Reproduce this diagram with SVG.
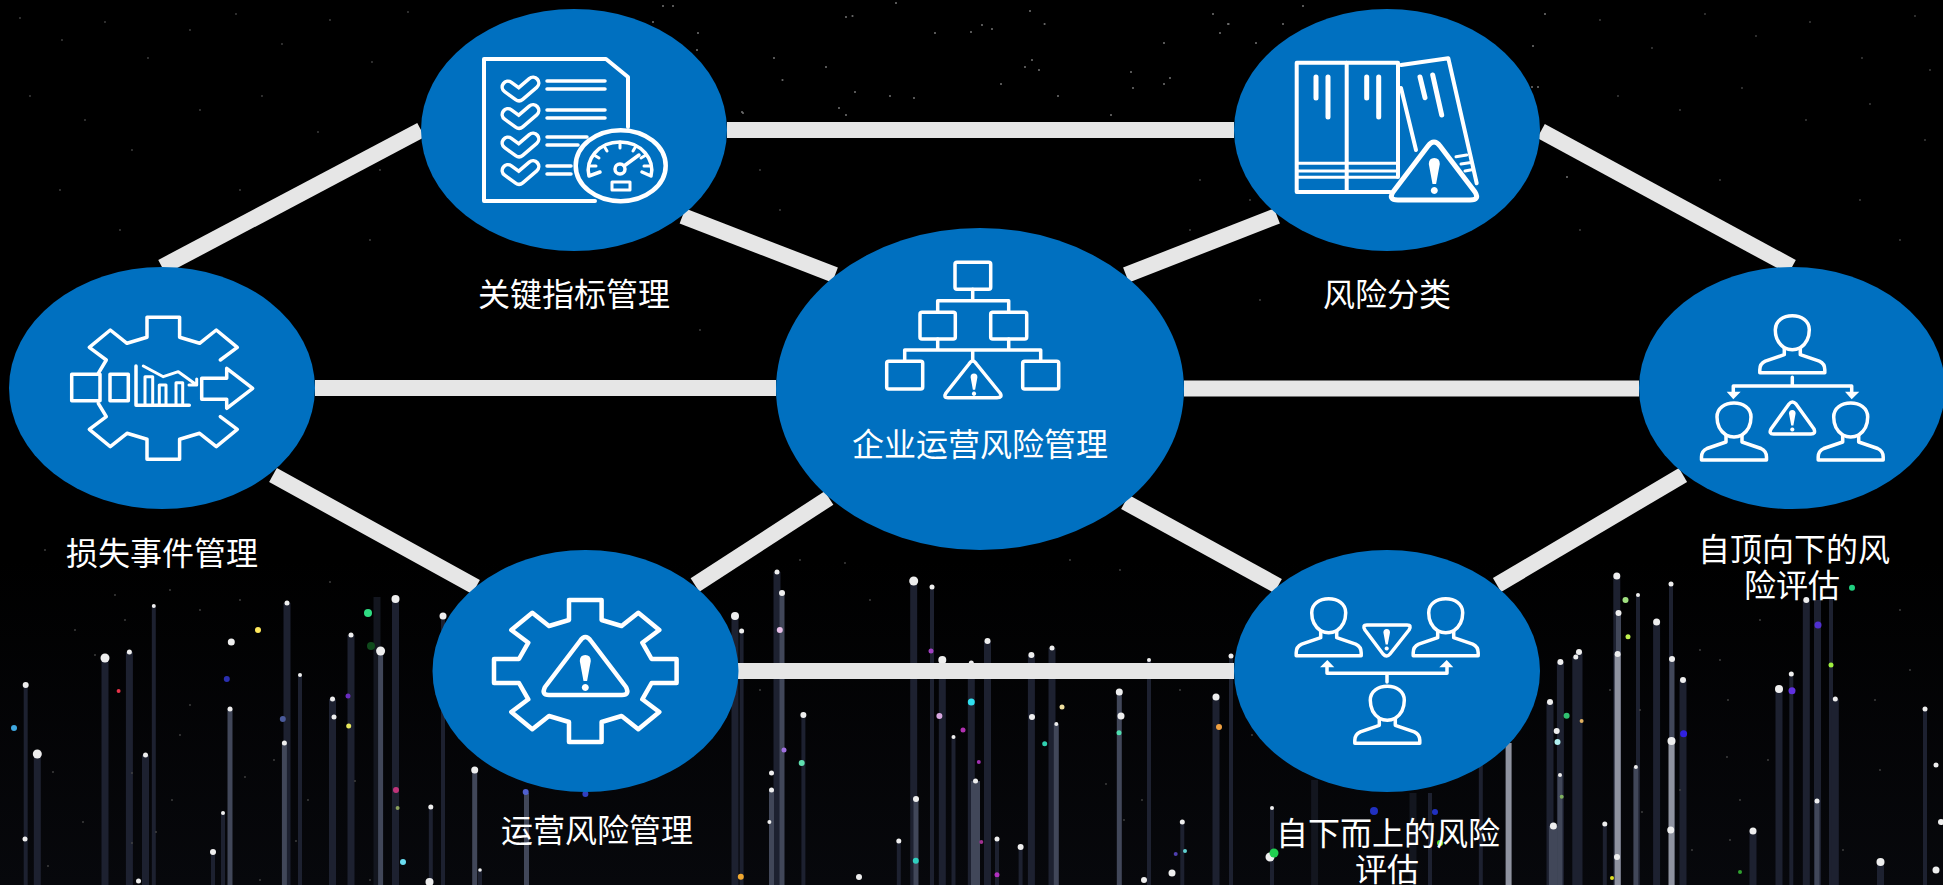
<svg xmlns="http://www.w3.org/2000/svg" width="1943" height="885" viewBox="0 0 1943 885" stroke-width="4">
<style>
.n{fill:#0070c0}
.c{stroke:#e6e6e6;stroke-width:16;fill:none}
.i{fill:none;stroke:#fff;stroke-linejoin:round;stroke-linecap:round}
.ib{fill:#0070c0;stroke:#fff;stroke-linejoin:round;stroke-linecap:round}
.t{font-family:"Noto Sans CJK SC",sans-serif;font-size:32px;fill:#fff;text-anchor:middle}
.w{fill:#fff;stroke:none}
.s1{stroke:#13161f;fill:none}
.s2{stroke:#1d2130;fill:none}
.s3{stroke:#414759;fill:none}
.s4{stroke:#8f93a0;fill:none}
.d{fill:#eeeeee}
.star{fill:none;stroke-linecap:round}
</style>
<defs>
<linearGradient id="bgfade" x1="0" y1="0" x2="0" y2="1"><stop offset="0" stop-color="#000"/><stop offset="1" stop-color="#07080c"/></linearGradient>
<path id="bang" d="M-5.500,-14 Q-5.500,-20 0,-20 Q5.500,-20 5.500,-14 L1.800,6 H-1.800 Z M0,9 a3.500,3.500 0 1 0 .01,0 Z"/>
<path id="gear" d="M-16.300,-71H16.300V-51L36.300,-45L53,-58.300L74,-41L57,-28.300L66.300,-12H91.300V12H66.300L57,28.300L74,41L53,58.300L36.300,45L16.300,51V71H-16.300V51L-36.300,45L-53,58.300L-74,41L-57,28.300L-66.300,12H-91.300V-12H-66.300L-57,-28.300L-74,-41L-53,-58.300L-36.300,-45L-16.300,-51Z"/>
<g id="person"><path d="M-8,15C-14,11 -17,4 -17,-3C-17,-12 -9,-17 0,-17C9,-17 17,-12 17,-3C17,4 14,11 8,15Q0,19 -8,15Z"/><path d="M-8,15V22L-27,28.500Q-32.500,31 -32.500,37V40H32.500V37Q32.500,31 27,28.500L8,22V15"/></g>
<path id="chk" d="M0,0L11,8L25,-4"/>
</defs>

<g id="background">
<rect width="1943" height="885" fill="#000"/>
<rect y="560" width="1943" height="325" fill="url(#bgfade)"/>
<path class="s1" stroke-width="7" d="M377,597V885M1314.600,780V885M1413,793V885"/>
<path class="s2" stroke-width="4" d="M25.700,685V885M153.800,606V885M300,675V885M443,616V885M932,587V885M741.600,631V885M1149,660V885M1231,656V885M803.400,715V885M953.500,737V885M1480.800,763V885M1430,793V885M1638,595V885M1671,584V885M1791.300,674V885M1831,597V885M1925,709V885M1272,808V885M898.800,841V885M997,839V885M1020.600,847V885M430.800,807V885M213,852V885M223,813V885M1604.800,824V885M1182.300,822V885M480,870V885"/>
<path class="s2" stroke-width="7" d="M37.300,754V885M105,658V885M129.400,652V885M145.500,755V885M287,603V885M332.500,699V885M351,635V885M395.500,599V885M735,616V885M913.700,581V885M942.300,660V885M971.300,663V885M987.500,641V885M1031.400,655V885M1052,648V885M1216,697V885M1579,652V885M1575.800,657V885M1560.400,662V885M1550,702V885M1616.800,576V885M1656.600,622V885M1683,680V885M1779,689V885M1806.300,600V885M1817.500,600V885M1835.300,699V885M1753,831V885M1880.500,862V885M777,572V885"/>
<path class="s3" stroke-width="5" d="M230,709V885M284.400,743V885M380.600,651V885M474.700,770V885M526.500,793V885M782,593V885M771.500,790V885M1056.300,724V885M1119.300,692V885M916,799V885M1618.500,613V885M1672,659V885M1560,775V885M1635.900,767V885M1817,801V885"/>
<path class="s3" stroke-width="9" d="M975.500,781V885M1553.400,826V885"/>
<path class="s4" stroke-width="6" d="M1508.600,743V885M1617.600,654V885M1671.500,741V885"/>
<g class="d">
<circle cx="25.700" cy="685" r="3"/><circle cx="37.300" cy="754" r="4.500"/><circle cx="105" cy="658" r="4.500"/><circle cx="129.400" cy="652" r="2.500"/><circle cx="153.800" cy="606" r="2"/><circle cx="231.300" cy="642" r="3.500"/><circle cx="230" cy="709" r="2.500"/><circle cx="287" cy="603" r="2.500"/><circle cx="300" cy="675" r="2"/><circle cx="284.400" cy="743" r="2.500"/><circle cx="332.500" cy="699" r="2.500"/><circle cx="334" cy="717" r="2.500"/><circle cx="351" cy="635" r="2.500"/><circle cx="380.600" cy="651" r="4.500"/><circle cx="395.500" cy="599" r="4"/><circle cx="443" cy="616" r="3.500"/><circle cx="474.700" cy="770" r="3.500"/><circle cx="430.800" cy="807" r="2.500"/><circle cx="145.500" cy="755" r="2.500"/><circle cx="223" cy="813" r="2"/><circle cx="213" cy="852" r="3"/><circle cx="25" cy="839" r="2.500"/><circle cx="138.500" cy="881" r="2.500"/><circle cx="429.500" cy="882" r="4"/><circle cx="480" cy="870" r="1.800"/>
<circle cx="735" cy="616" r="4"/><circle cx="741.600" cy="631" r="2.500"/><circle cx="777" cy="572" r="2.500"/><circle cx="782" cy="593" r="3"/><circle cx="779.800" cy="630" r="3" fill="#e8c0e8"/><circle cx="771.500" cy="773" r="2.500"/><circle cx="771.500" cy="790" r="2.500"/><circle cx="769.400" cy="822" r="2"/><circle cx="803.400" cy="715" r="3"/><circle cx="913.700" cy="581" r="4.500"/><circle cx="932" cy="587" r="2.500"/><circle cx="942.300" cy="660" r="4"/><circle cx="971.300" cy="663" r="2.500"/><circle cx="987.500" cy="641" r="3"/><circle cx="1031.400" cy="655" r="3"/><circle cx="1052" cy="648" r="2.500"/><circle cx="1056.300" cy="724" r="2"/><circle cx="1032" cy="717" r="3"/><circle cx="1119.300" cy="692" r="3.500"/><circle cx="1121" cy="716" r="3.500"/><circle cx="1149" cy="660" r="2"/><circle cx="1216" cy="697" r="3.500"/><circle cx="1231" cy="656" r="2.500"/><circle cx="916" cy="799" r="3"/><circle cx="898.800" cy="841" r="2.500"/><circle cx="975.500" cy="781" r="2.500"/><circle cx="953.500" cy="737" r="2"/><circle cx="997" cy="839" r="2.500"/><circle cx="1020.600" cy="847" r="3"/><circle cx="1182.300" cy="822" r="2.500"/><circle cx="1272" cy="808" r="2"/><circle cx="1172" cy="873" r="3.500"/><circle cx="1270" cy="857" r="4.500"/><circle cx="1144" cy="880" r="3"/><circle cx="859" cy="877" r="3"/>
<circle cx="1616.800" cy="576" r="3.500"/><circle cx="1618.500" cy="613" r="3"/><circle cx="1617.600" cy="654" r="3"/><circle cx="1638" cy="595" r="2"/><circle cx="1656.600" cy="622" r="3.500"/><circle cx="1671" cy="584" r="2.500"/><circle cx="1672" cy="659" r="3"/><circle cx="1671.500" cy="741" r="4"/><circle cx="1683" cy="680" r="3"/><circle cx="1579" cy="652" r="3"/><circle cx="1575.800" cy="657" r="2.500"/><circle cx="1560.400" cy="662" r="3"/><circle cx="1550" cy="702" r="3"/><circle cx="1556.700" cy="731" r="3"/><circle cx="1560" cy="775" r="2"/><circle cx="1553.400" cy="826" r="3.500"/><circle cx="1604.800" cy="824" r="2.500"/><circle cx="1635.900" cy="767" r="2"/><circle cx="1779" cy="689" r="4"/><circle cx="1791.300" cy="674" r="2.500"/><circle cx="1806.300" cy="600" r="3"/><circle cx="1835.300" cy="699" r="2.500"/><circle cx="1817" cy="801" r="2.500"/><circle cx="1925" cy="709" r="2.500"/><circle cx="1753" cy="831" r="3.500"/><circle cx="1880.500" cy="862" r="4"/><circle cx="1617" cy="857" r="3"/><circle cx="1670.700" cy="830" r="3.500"/><circle cx="1936" cy="765" r="2.500"/><circle cx="1941" cy="822" r="3"/><circle cx="1936" cy="870" r="3.500"/>
</g>
<circle cx="368" cy="613" r="4" fill="#2fdc82"/><circle cx="258" cy="630" r="3" fill="#ffe85c"/><circle cx="371" cy="646" r="4" fill="#0f4a1c"/><circle cx="118.600" cy="691" r="2" fill="#e8344a"/><circle cx="226.800" cy="679" r="3" fill="#2a2fb0"/><circle cx="14" cy="728" r="3" fill="#3fa8e0"/><circle cx="282.800" cy="719" r="3" fill="#4a5a9a"/><circle cx="348" cy="696" r="2.500" fill="#6a2cc0"/><circle cx="348.700" cy="726" r="2.500" fill="#e8e85c"/><circle cx="396" cy="790" r="3" fill="#c0347a"/><circle cx="397.600" cy="808" r="2" fill="#8aa05c"/><circle cx="403" cy="862" r="3" fill="#6adcf0"/><circle cx="525.700" cy="792" r="3" fill="#5060d0"/><circle cx="585.400" cy="794" r="3" fill="#3040c0"/>
<circle cx="931" cy="651" r="2.500" fill="#a040c0"/><circle cx="939.400" cy="716" r="3" fill="#d8a8e0"/><circle cx="971.300" cy="702" r="3.500" fill="#30e0f0"/><circle cx="963" cy="730" r="2.500" fill="#b030b0"/><circle cx="978.800" cy="762" r="2" fill="#a030b0"/><circle cx="1044.700" cy="743.700" r="2.500" fill="#30d0b0"/><circle cx="1119" cy="732.700" r="2.500" fill="#50e0b0"/><circle cx="1219" cy="727" r="3" fill="#f0a040"/><circle cx="801.700" cy="763" r="3" fill="#60e0b0"/><circle cx="784" cy="750" r="2.500" fill="#a070e0"/><circle cx="740.800" cy="876.700" r="3" fill="#f0a830"/><circle cx="915.800" cy="860.700" r="3" fill="#30d0c0"/><circle cx="997" cy="874.700" r="2.500" fill="#b030c0"/><circle cx="981.300" cy="842" r="2" fill="#a03090"/><circle cx="1175.700" cy="854" r="2" fill="#5040b0"/><circle cx="1185" cy="851" r="2" fill="#60d0d0"/><circle cx="1062" cy="707" r="2.500" fill="#f0e0a0"/><circle cx="1274" cy="853" r="4.500" fill="#20d050"/>
<circle cx="1625.500" cy="600" r="3" fill="#a0e080"/><circle cx="1628" cy="636.700" r="2.500" fill="#c0f050"/><circle cx="1852" cy="587.700" r="3" fill="#20d080"/><circle cx="1566.600" cy="715.700" r="3" fill="#30c070"/><circle cx="1557.500" cy="742" r="3" fill="#b0f0f0"/><circle cx="1683.600" cy="733.700" r="3.500" fill="#3020e0"/><circle cx="1818" cy="625" r="3.500" fill="#5030d0"/><circle cx="1831" cy="665" r="2.500" fill="#a0f040"/><circle cx="1792" cy="690.700" r="3.500" fill="#6030e0"/><circle cx="1374" cy="811" r="4" fill="#2030c0"/><circle cx="1435" cy="812" r="3" fill="#2030c0"/><circle cx="1440" cy="843" r="3" fill="#60e020"/><circle cx="1612" cy="878" r="2" fill="#e0e020"/><circle cx="1740" cy="872" r="2" fill="#30a030"/><circle cx="1581.600" cy="721" r="2" fill="#e0b060"/><circle cx="1561.700" cy="796.700" r="2" fill="#80b060"/>
<path class="star" stroke="#6a6a6a" stroke-width="2.200" d="M846,17h0M852.500,16h0M896,3h0M1030,11h0M1213,14h0M1228.600,24h0M1220,33h0M1256,43h0M982,25h0M992,29h0M971,32h0M1044.600,24h0M935,33h0M774,58h0M826,67h0M782.500,80h0M1032,60h0M1025,67h0M1039,70h0M855,92h0M890,96h0M914,98h0M1133,88h0M1170,78h0M1164,84h0M1058,96h0M1111,115h0M846,115h0M742,112h0M839,108h0M1001,84h0M1131,72h0M1164,43h0M663,6h0M698,33h0M697,50h0M653,22h0M673,6h0M743,113h0M1303,6h0M1228,24h0M1283,24h0M1545,14h0M1533,46h0M1532,87h0M1538,87h0M1567,177h0"/>
<path class="star" stroke="#444" stroke-width="1.800" d="M20,18h0M62,40h0M105,22h0M148,58h0M190,30h0M236,14h0M282,44h0M330,20h0M372,62h0M408,12h0M30,96h0M85,120h0M132,150h0M200,110h0M262,96h0M318,132h0M380,170h0M240,190h0M60,190h0M120,230h0M300,200h0M370,240h0M1600,20h0M1652,48h0M1705,14h0M1756,36h0M1810,22h0M1862,58h0M1915,16h0M1930,70h0M1618,96h0M1680,110h0M1742,88h0M1806,120h0M1870,104h0M1925,140h0M1640,180h0M1720,180h0M1860,200h0M1900,240h0M1580,230h0M760,170h0M1200,180h0M780,210h0M1190,230h0M1260,300h0M700,330h0M1250,200h0M45,550h0M115,595h0M170,590h0M200,610h0M125,620h0M75,630h0M95,655h0M240,600h0M330,582h0M190,705h0M180,735h0M83,822h0M48,866h0M132,773h0M53,772h0M274,760h0M245,777h0M172,800h0M156,832h0M132,843h0M260,880h0M308,800h0M296,841h0M355,781h0M370,880h0M1070,560h0M1120,570h0M800,560h0M845,563h0M870,600h0M760,690h0M1295,585h0M1327,605h0M1358,640h0M1300,650h0M1180,690h0M1252,735h0M1124,820h0M1142,800h0M1106,784h0M1500,720h0M1527,698h0M1610,690h0M1640,710h0M1700,650h0M1720,660h0M1728,700h0M1727,757h0M1768,760h0M1680,790h0M1740,800h0M1875,700h0M1910,670h0M1760,620h0M1900,610h0M1642,812h0M1692,850h0M1730,840h0M1843,850h0M1880,770h0"/>
</g>

<g id="connectors">
<path class="c" d="M727,130H1234"/>
<path class="c" d="M162,267L421,130"/>
<path class="c" d="M682.500,216L835,275"/>
<path class="c" d="M1277,216L1126,275"/>
<path class="c" d="M1541,131L1792,267"/>
<path class="c" d="M315,388H776"/>
<path class="c" d="M1184,388.500H1639"/>
<path class="c" d="M273,475L476,587"/>
<path class="c" d="M695,585L829,498"/>
<path class="c" d="M1125,502L1278,586"/>
<path class="c" d="M1497,585L1683,475"/>
<path class="c" d="M738,671H1234"/>
</g>

<g id="node-kri">
<ellipse class="n" cx="574" cy="130" rx="153" ry="121"/>
<path class="i" d="M595,201H484V59H606L628,77V127"/>
<g fill="none" stroke-linecap="round" stroke-linejoin="round">
<g stroke="#fff" stroke-width="15"><use href="#chk" x="508" y="87"/><use href="#chk" x="508" y="114.500"/><use href="#chk" x="508" y="143"/><use href="#chk" x="508" y="170.500"/></g>
<g stroke="#0070c0" stroke-width="8"><use href="#chk" x="508" y="87"/><use href="#chk" x="508" y="114.500"/><use href="#chk" x="508" y="143"/><use href="#chk" x="508" y="170.500"/></g>
</g>
<path class="i" stroke-width="3.500" d="M547,81H605M547,89H605M547,110H605M547,118H605M547,137H587M547,145H578M547,166H571M547,174H571"/>
<ellipse class="ib" stroke-width="4.500" cx="620.700" cy="165.700" rx="45" ry="35.500"/>
<path class="i" stroke-width="3.500" d="M600,172L589,176C585,160 598,142 620,142C642,142 655,160 651,176L642,172"/>
<path class="i" stroke-width="3" d="M620,142V148M604,146L607,151M636,146L633,151M594,155L599,158M646,155L641,158M590,166H596M650,166H644"/>
<path class="i" stroke-width="3.500" d="M624,166L639,155"/>
<circle class="i" stroke-width="3.500" cx="620" cy="169" r="5"/>
<rect class="i" stroke-width="3" x="612" y="182" width="18" height="8"/>
<text class="t" x="574" y="306">关键指标管理</text>
</g>

<g id="node-category">
<ellipse class="n" cx="1387" cy="130" rx="153" ry="121"/>
<path class="i" d="M1390,192H1296.700V62.700H1398V177"/>
<path class="i" d="M1346.700,62.700V192"/>
<path class="i" stroke-width="3" d="M1297,163.300H1397M1297,171H1397M1297,177.300H1397"/>
<path class="i" stroke-width="5" d="M1316,77V98M1328,77V117M1366.700,77V98M1378.700,77V117"/>
<path class="i" d="M1401,65L1448.300,58.300L1476.700,183.300M1401,88L1416,150"/>
<path class="i" stroke-width="5" d="M1420,77L1425,97.700M1432.700,75L1441.700,115"/>
<path class="i" stroke-width="3" d="M1456,156.700L1466.700,155M1461,164L1471,162.500M1465,171L1473,169.500"/>
<path class="ib" stroke-width="5" d="M1428,146Q1434,138 1440,146L1475,192Q1480,200 1470,200H1398Q1388,200 1393,192Z"/>
<use class="w" href="#bang" transform="translate(1434.300,178)"/>
<text class="t" x="1387" y="306">风险分类</text>
</g>

<g id="node-loss">
<ellipse class="n" cx="162" cy="388" rx="153" ry="121"/>
<g transform="translate(163.300,388.300)">
<path class="i" stroke-width="3.500" d="M-65,-15L-57,-28.300L-74,-41L-53,-58.300L-36.300,-45L-16.300,-51V-71H16.300V-51L36.300,-45L53,-58.300L74,-41L57,-28.300"/>
<path class="i" stroke-width="3.500" d="M-65,15L-57,28.300L-74,41L-53,58.300L-36.300,45L-16.300,51V71H16.300V51L36.300,45L53,58.300L74,41L57,28.300"/>
</g>
<rect class="i" stroke-width="3.500" x="71.700" y="374.300" width="28.300" height="26.400"/>
<rect class="i" stroke-width="3.500" x="110" y="374.300" width="18.300" height="26.400"/>
<path class="i" stroke-width="3.500" d="M136,366V405.300H189.300"/>
<path class="i" stroke-width="3" d="M145,405V376.700H152.700V405M159.300,405V385H166V405M176,405V382.700H182.700V405"/>
<path class="i" stroke-width="3" d="M143.300,366L163.300,376.700L178.300,371.700L196.700,385M189,385H196.700V379"/>
<path class="i" stroke-width="3.500" d="M201.700,378.300H226.700V368.300L252.700,388.300L226.700,408.300V399.300H201.700Z"/>
<text class="t" x="162" y="565">损失事件管理</text>
</g>

<g id="node-center">
<ellipse class="n" cx="980" cy="389" rx="204" ry="161"/>
<g class="i" stroke-width="3.500">
<rect x="955" y="262.300" width="35.700" height="27" rx="2"/>
<rect x="920" y="312.300" width="35.300" height="26.700" rx="2"/>
<rect x="990.700" y="312.300" width="36" height="26.700" rx="2"/>
<rect x="886.700" y="361.300" width="36" height="27.700" rx="2"/>
<rect x="1022.700" y="361.300" width="36" height="27.700" rx="2"/>
<path d="M972.700,289.300V300.700M937.700,312V300.700H1008.700V312M937.700,339V350M1008.700,339V350M904.700,361V350H1040.700V361M972.700,350V360"/>
<path d="M969,364Q972.700,358 976.500,364L1000,393Q1003,397.700 997,397.700H948Q943,397.700 946,393Z"/>
</g>
<use class="w" href="#bang" transform="translate(974,386) scale(.62)"/>
<text class="t" x="980" y="456">企业运营风险管理</text>
</g>

<g id="node-topdown">
<ellipse class="n" cx="1792" cy="388" rx="153" ry="121"/>
<g class="i" stroke-width="3.500">
<use href="#person" x="1792.300" y="332.700"/><use href="#person" x="1734" y="420"/><use href="#person" x="1850.700" y="420"/>
<path d="M1792.300,377.300V386M1733.300,392V386H1851.700V392"/>
<path d="M1789,404Q1792.300,400 1796,404L1814,429Q1816,434 1811,434H1773.500Q1768.500,434 1771,429Z"/>
</g>
<path class="w" d="M1726.700,391.700H1740.700L1733.300,399.300ZM1845,391.700H1859.300L1851.700,399.300Z"/>
<use class="w" href="#bang" transform="translate(1792.300,422) scale(.6)"/>
<text class="t" x="1794" y="561">自顶向下的风</text>
<text class="t" x="1792" y="597">险评估</text>
</g>

<g id="node-operation">
<ellipse class="n" cx="585.500" cy="671" rx="153" ry="121"/>
<use class="i" stroke-width="4.500" href="#gear" x="585.300" y="671"/>
<path class="i" stroke-width="4.500" d="M580,641Q585.300,633 591,641L626,687Q630,695 622,695H549Q541,695 545,687Z"/>
<use class="w" href="#bang" transform="translate(585.300,675)"/>
<text class="t" x="597" y="842">运营风险管理</text>
</g>

<g id="node-bottomup">
<ellipse class="n" cx="1387" cy="671" rx="153" ry="121"/>
<g class="i" stroke-width="3.500">
<use href="#person" x="1328.700" y="615.700"/><use href="#person" x="1445.700" y="615.700"/><use href="#person" x="1387.300" y="703.300"/>
<path d="M1387,682V673.300M1327,667V673.300H1447V667"/>
<path d="M1367,625H1407Q1412,625 1409,630L1390,654Q1386.700,658 1383,654L1365,630Q1362,625 1367,625Z"/>
</g>
<path class="w" d="M1320,667.300H1334.300L1327.300,660ZM1439.300,667.300H1453.300L1446.700,660Z"/>
<use class="w" href="#bang" transform="translate(1386.700,641) scale(.6)"/>
<text class="t" x="1388" y="845">自下而上的风险</text>
<text class="t" x="1387" y="881">评估</text>
</g>
</svg>
